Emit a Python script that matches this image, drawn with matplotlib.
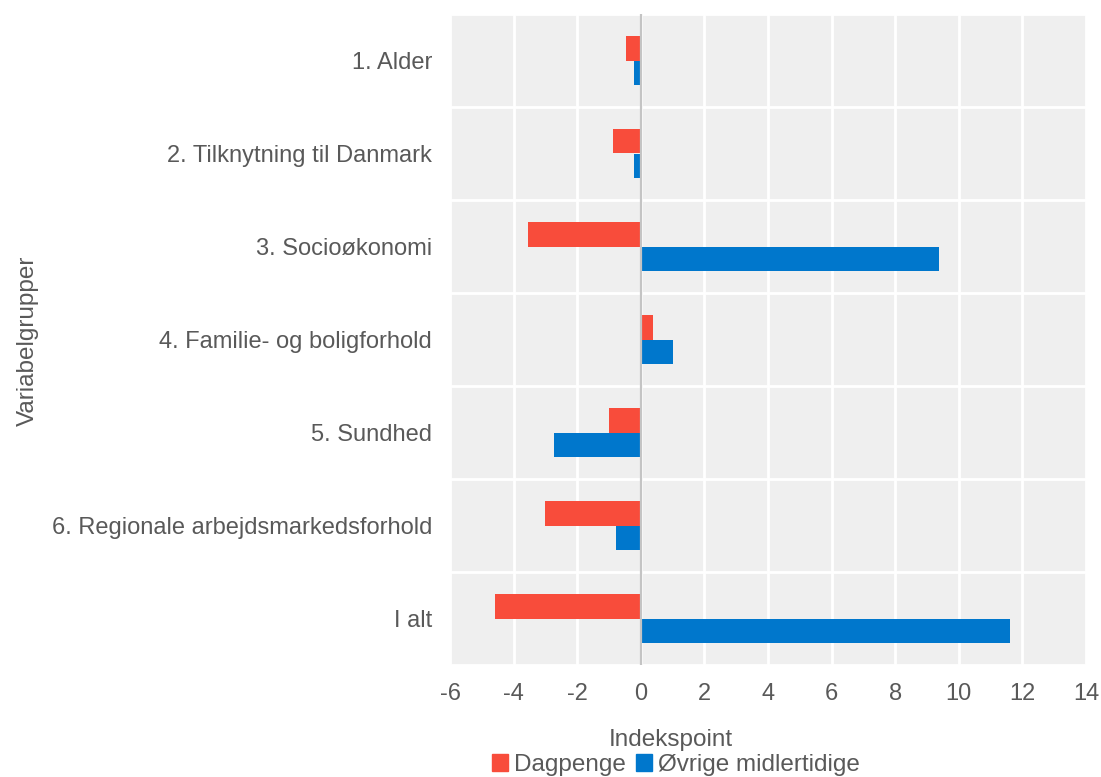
import numpy as np
import matplotlib as mpl
import matplotlib.pyplot as plt
from matplotlib.patches import Patch

mpl.rcParams['font.family'] = ['Liberation Sans', 'DejaVu Sans']

# data
kategorier = ['1. Alder', '2. Tilknytning til Danmark', '3. Socioøkonomi',
              '4. Familie- og boligforhold', '5. Sundhed',
              '6. Regionale arbejdsmarkedsforhold', 'I alt']
dagpenge = [-0.47, -0.87, -3.55, 0.39, -1.0, -3.0, -4.59]
oevrige = [-0.2, -0.21, 9.39, 1.0, -2.73, -0.78, 11.62]
xticks = [-6, -4, -2, 0, 2, 4, 6, 8, 10, 12, 14]

tekst = '#595959'
rod = '#f84c3b'
bla = '#0077cc'

fig = plt.figure(figsize=(11.01, 7.77), dpi=100)
ax = fig.add_axes([450 / 1101, 1 - 665 / 777, 636 / 1101, 651 / 777])
ax.set_facecolor('#efefef')

y = np.arange(len(kategorier))
h = 0.26
ax.barh(y - h / 2, dagpenge, height=h, color=rod, zorder=3)
ax.barh(y + h / 2, oevrige, height=h, color=bla, zorder=3)
ax.axvline(0, color='#c4c4c4', lw=1.6, zorder=4)

ax.set_xlim(-6, 14)
ax.set_ylim(len(kategorier) - 0.5, -0.5)
ax.set_xticks(xticks)
ax.set_xticklabels([str(v) for v in xticks])
ax.set_yticks(y)
ax.set_yticklabels(kategorier)
ax.set_yticks(np.arange(len(kategorier) + 1) - 0.5, minor=True)

ax.grid(True, axis='x', which='major', color='white', lw=2, zorder=1)
ax.grid(True, axis='y', which='minor', color='white', lw=2, zorder=1)
ax.tick_params(axis='both', which='both', length=0, labelsize=17, labelcolor=tekst)
ax.tick_params(axis='y', pad=13)
ax.tick_params(axis='x', pad=13)
for s in ax.spines.values():
    s.set_visible(False)

fig.text(28 / 1101, 1 - 341 / 777, 'Variabelgrupper', rotation=90, ha='center', va='center',
         fontsize=17.5, color=tekst)
fig.text(671 / 1101, 1 - 740 / 777, 'Indekspoint', ha='center', va='center',
         fontsize=17.5, color=tekst)

handles = [Patch(color=rod, label='Dagpenge'), Patch(color=bla, label='Øvrige midlertidige')]
leg = fig.legend(handles=handles, loc='center', bbox_to_anchor=(676 / 1101, 1 - 765 / 777),
                 ncol=2, frameon=False, fontsize=17.5, handlelength=0.65, handleheight=0.65,
                 handletextpad=0.25, columnspacing=0.4, borderpad=0)
for t in leg.get_texts():
    t.set_color(tekst)

fig.savefig('out.png', dpi=100)
